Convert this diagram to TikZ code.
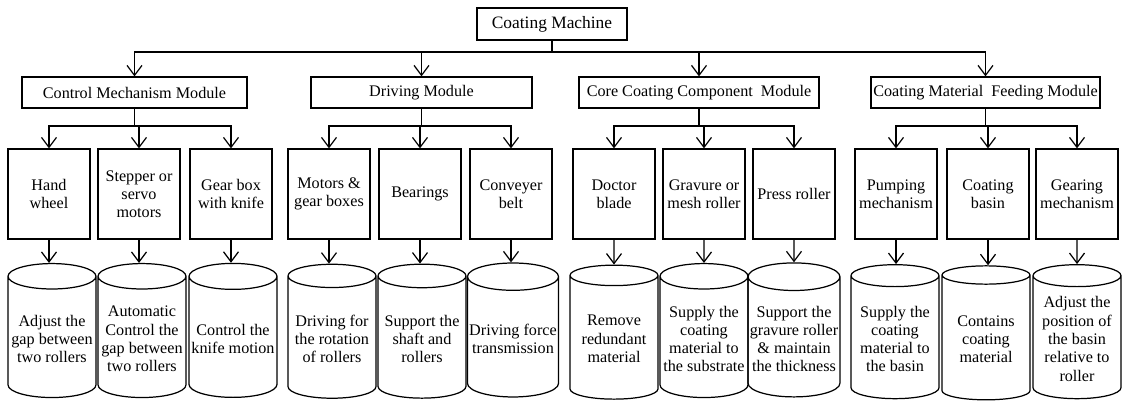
\documentclass[tikz,border=0pt]{standalone}
\usepackage{fontspec}
\setmainfont{Liberation Serif}
\usetikzlibrary{arrows.meta,shapes.geometric,positioning}

\begin{document}
\begin{tikzpicture}[x=0.02cm, y=-0.02cm, line width=0.7pt, font=\fontsize{9.2}{10.4}\selectfont]
\useasboundingbox (0,0) rectangle (1123,402);

    \tikzstyle{arr}=[-{Straight Barb[length=2mm,width=3mm]}];
    \tikzstyle{topbox}=[draw, minimum width=3cm, minimum height=0.64cm, inner sep=1pt, font=\fontsize{9.9}{12}\selectfont];
    \tikzstyle{module}=[draw, minimum height=0.62cm, inner sep=1pt];
    \tikzstyle{part}=[draw, align=center, minimum width=1.64cm, minimum height=1.8cm, inner sep=1pt];
    \tikzstyle{role}=[draw, cylinder, shape border rotate=90, aspect=0.3, align=center,
                      minimum width=1.76cm, minimum height=2.68cm, inner sep=1pt];

% machine
\node[topbox] (machine) at (552,24) {Coating Machine};
\coordinate (bus) at (552,52);
\draw (machine) -- (bus);

% the four modules
\node[module, minimum width=4.5cm]  (control) at (134.5,92.5) {Control Mechanism Module};
\node[module, minimum width=4.42cm] (driving) at (421.5,92.5) {Driving Module};
\node[module, minimum width=4.8cm]  (core)    at (699,92.5)   {Core Coating Component\ \ Module};
\node[module, minimum width=4.58cm] (feeding) at (985.5,92.5) {Coating Material\ \ Feeding Module};
\draw[arr] (bus) -| (control);
\draw[arr] (bus) -| (driving);
\draw[arr] (bus) -| (core);
\draw[arr] (bus) -| (feeding);

% Control mechanism
\coordinate (controlbus) at (134.5,126);
\draw (control) -- (controlbus);
\node[part] (hand)    at (49,194)  {Hand\\ wheel};
\node[part] (stepper) at (139,194) {Stepper or\\ servo\\ motors};
\node[part] (gearbox) at (231,194) {Gear box\\ with knife};
\node[role] (gap)     at (52,339)  {Adjust the\\ gap between\\ two rollers};
\node[role] (auto)    at (142,339) {Automatic\\ Control the\\ gap between\\ two rollers};
\node[role] (knife)   at (233,339) {Control the\\ knife motion};

% Driving
\coordinate (drivingbus) at (421.5,126);
\draw (driving) -- (drivingbus);
\node[part] (motors)   at (329,194) {Motors \&\\ gear boxes};
\node[part] (bearings) at (420,194) {Bearings};
\node[part] (belt)     at (511,194) {Conveyer\\ belt};
\node[role] (rotation) at (332,339) {Driving for\\ the rotation\\ of rollers};
\node[role] (shaft)    at (422,339) {Support the\\ shaft and\\ rollers};
\node[role] (force)    at (513,339) {Driving force\\ transmission};

% Core coating component
\coordinate (corebus) at (699,126);
\draw (core) -- (corebus);
\node[part] (doctor)  at (614,194) {Doctor\\ blade};
\node[part] (gravure) at (704,194) {Gravure or\\ mesh roller};
\node[part] (press)   at (794,194) {Press roller};
\node[role] (remove)  at (614,339) {Remove\\ redundant\\ material};
\node[role] (supply)  at (704,339) {Supply the\\ coating\\ material to\\ the substrate};
\node[role] (support) at (794,339) {Support the\\ gravure roller\\ \& maintain\\ the thickness};

% Coating material feeding
\coordinate (feedingbus) at (985.5,126);
\draw (feeding) -- (feedingbus);
\node[part] (pump)    at (896,194)  {Pumping\\ mechanism};
\node[part] (basin)   at (988,194)  {Coating\\ basin};
\node[part] (gearing) at (1077,194) {Gearing\\ mechanism};
\node[role] (tobasin) at (895,339)  {Supply the\\ coating\\ material to\\ the basin};
\node[role] (holds)   at (986,339)  {Contains\\ coating\\ material};
\node[role] (adjust)  at (1077,339) {Adjust the\\ position of\\ the basin\\ relative to\\ roller};

% bus to parts, parts to roles
\draw[arr] (controlbus) -| (hand);
\draw[arr] (controlbus) -| (stepper);
\draw[arr] (controlbus) -| (gearbox);
\draw[arr] (drivingbus) -| (motors);
\draw[arr] (drivingbus) -| (bearings);
\draw[arr] (drivingbus) -| (belt);
\draw[arr] (corebus) -| (doctor);
\draw[arr] (corebus) -| (gravure);
\draw[arr] (corebus) -| (press);
\draw[arr] (feedingbus) -| (pump);
\draw[arr] (feedingbus) -| (basin);
\draw[arr] (feedingbus) -| (gearing);

\draw[arr] (hand) -- (hand |- gap.north);
\draw[arr] (stepper) -- (stepper |- auto.north);
\draw[arr] (gearbox) -- (gearbox |- knife.north);
\draw[arr] (motors) -- (motors |- rotation.north);
\draw[arr] (bearings) -- (bearings |- shaft.north);
\draw[arr] (belt) -- (belt |- force.north);
\draw[arr] (doctor) -- (remove);
\draw[arr] (gravure) -- (supply);
\draw[arr] (press) -- (support);
\draw[arr] (pump) -- (pump |- tobasin.north);
\draw[arr] (basin) -- (basin |- holds.north);
\draw[arr] (gearing) -- (adjust);
\end{tikzpicture}
\end{document}
